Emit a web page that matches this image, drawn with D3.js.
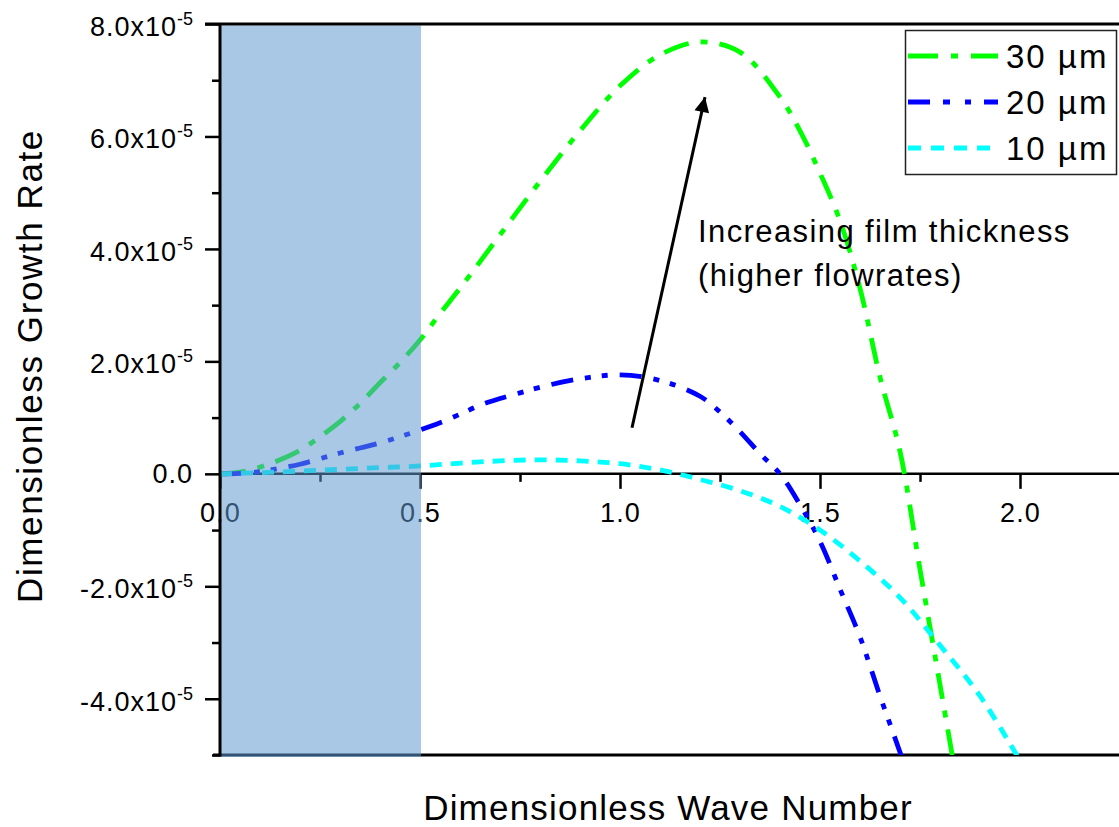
<!DOCTYPE html>
<html><head><meta charset="utf-8">
<script src="https://cdn.jsdelivr.net/npm/d3@7"></script>
<style>
body{margin:0;background:#fff;}
text{font-family:"Liberation Sans",Arial,sans-serif;fill:#000;}
</style>
</head><body>
<svg id="chart" width="1119" height="827"></svg>
<script>
// values of growth rate are in units of 1e-5
const k30 = [0,0.05,0.1,0.15,0.2,0.25,0.3,0.35,0.4,0.45,0.5,0.55,0.6,0.7,0.8,0.9,1.0,1.1,1.2,1.3,1.4,1.45,1.5,1.55,1.6,1.65,1.7,1.75,1.8,1.85];
const g30 = [0,0.03,0.12,0.25,0.42,0.66,0.93,1.25,1.62,1.98,2.38,2.85,3.3,4.25,5.2,6.1,6.9,7.45,7.68,7.5,6.7,6.1,5.35,4.5,3.3,1.72,0.4,-1.7,-3.75,-5.8];
const k20 = [0,0.05,0.1,0.15,0.2,0.25,0.3,0.35,0.4,0.45,0.5,0.55,0.6,0.65,0.7,0.75,0.8,0.9,1.0,1.1,1.2,1.25,1.3,1.35,1.4,1.45,1.5,1.55,1.6,1.65,1.7,1.75];
const g20 = [0,0.01,0.04,0.1,0.17,0.27,0.37,0.46,0.55,0.66,0.78,0.91,1.06,1.22,1.34,1.44,1.54,1.69,1.76,1.66,1.38,1.1,0.75,0.36,0.0,-0.55,-1.2,-2.05,-2.9,-3.95,-4.95,-6.0];
const k10 = [0,0.1,0.2,0.3,0.4,0.5,0.6,0.7,0.8,0.9,1.0,1.1,1.2,1.3,1.4,1.5,1.6,1.7,1.8,1.9,2.0];
const g10 = [0,0.02,0.05,0.08,0.11,0.14,0.19,0.23,0.25,0.23,0.18,0.07,-0.1,-0.3,-0.58,-1.0,-1.55,-2.2,-3.05,-3.95,-5.1];

const seriesNames = ["30 µm","20 µm","10 µm"];
const seriesColors = ["#00ff00","#0000ff","#00ffff"];
const seriesDash = ["26,12,7,12","22,12,6,11,6,12","12,9"];
const legendDash = ["30,13,7,13","22,13,7,15,6,13","13,10"];

const xTicks = [0,0.5,1.0,1.5,2.0];
const xTickLabels = ["0.0","0.5","1.0","1.5","2.0"];
const xMinor = [0.25,0.75,1.25,1.75,2.25];
const yTicks = [-4,-2,0,2,4,6,8];
const yTickLabels = ["-4.0x10","-2.0x10","0.0","2.0x10","4.0x10","6.0x10","8.0x10"];
const yTickExp = ["-5","-5","","-5","-5","-5","-5"];
const yMinor = [-5,-3,-1,1,3,5,7];
const shadedRange = [0,0.5];
const arrowFrom = [1.03,0.82], arrowTo = [1.2125,6.7];
const annotationLines = ["Increasing film thickness","(higher flowrates)"];

const svg = d3.select("#chart");
const x = d3.scaleLinear().domain([0,2.25]).range([220,1120]);
const y = d3.scaleLinear().domain([-5,8]).range([755,24]);

const defs = svg.append("defs");
defs.append("clipPath").attr("id","clip").append("rect")
  .attr("x",220).attr("y",24).attr("width",900).attr("height",731);
defs.append("marker").attr("id","arrow").attr("viewBox","0 0 10 10")
  .attr("refX",10).attr("refY",5).attr("markerWidth",8).attr("markerHeight",5)
  .attr("markerUnits","strokeWidth").attr("orient","auto")
  .append("path").attr("d","M0,0 L10,5 L0,10 z").attr("fill","#000");

// x axis at zero
const xAxisG = svg.append("g").attr("transform",`translate(0,${y(0)})`);
xAxisG.call(d3.axisBottom(x).tickValues(xTicks).tickSize(15).tickPadding(14)
  .tickFormat((d,i)=>xTickLabels[i]));
xAxisG.append("g").call(d3.axisBottom(x).tickValues(xMinor).tickSize(8).tickFormat(""));
xAxisG.selectAll("path.domain").remove();
xAxisG.selectAll("line").attr("stroke","#000").attr("stroke-width",2.5);
xAxisG.selectAll("text").attr("font-size",27).attr("letter-spacing",1.2).attr("fill","#000")
  .attr("font-family","'Liberation Sans',Arial,sans-serif");
svg.append("line").attr("x1",x(0)).attr("x2",1120).attr("y1",y(0)).attr("y2",y(0))
  .attr("stroke","#000").attr("stroke-width",2.5);

// bottom border
svg.append("line").attr("x1",213).attr("x2",1120).attr("y1",y(-5)).attr("y2",y(-5))
  .attr("stroke","#000").attr("stroke-width",3);

// curves
const line = d3.line().x(d=>x(d[0])).y(d=>y(d[1])).curve(d3.curveCatmullRom.alpha(0.5));
const series = [[k30,g30],[k20,g20],[k10,g10]];
const plot = svg.append("g").attr("clip-path","url(#clip)");
series.forEach((s,i)=>{
  const pts = s[0].map((k,j)=>[k,s[1][j]]);
  plot.append("path").datum(pts).attr("d",line).attr("fill","none")
    .attr("stroke",seriesColors[i]).attr("stroke-width",4.8)
    .attr("stroke-dasharray",seriesDash[i]);
});

// shaded region (semi-transparent, above curves)
svg.append("rect").attr("x",x(shadedRange[0])+1).attr("y",y(8)+1.5)
  .attr("width",x(shadedRange[1])-x(shadedRange[0])).attr("height",y(-5)-y(8)+0.5)
  .attr("fill","#5e9ad1").attr("fill-opacity",0.54);

// y axis
const yAxisG = svg.append("g").attr("transform",`translate(${x(0)},0)`);
yAxisG.call(d3.axisLeft(y).tickValues(yTicks).tickSize(15).tickFormat(""));
yAxisG.append("g").call(d3.axisLeft(y).tickValues(yMinor).tickSize(8).tickFormat(""));
yAxisG.selectAll("path.domain").remove();
yAxisG.selectAll("line").attr("stroke","#000").attr("stroke-width",2.5);
svg.append("line").attr("x1",x(0)).attr("x2",x(0)).attr("y1",y(8)).attr("y2",y(-5)+1.5)
  .attr("stroke","#000").attr("stroke-width",3);
// top border
svg.append("line").attr("x1",205).attr("x2",1120).attr("y1",y(8)).attr("y2",y(8))
  .attr("stroke","#000").attr("stroke-width",3);

yTicks.forEach((v,i)=>{
  const t = svg.append("text").attr("x",193).attr("y",y(v)+(yTickExp[i]?12:9))
    .attr("text-anchor","end").attr("font-size",27).attr("letter-spacing",1.0);
  t.append("tspan").text(yTickLabels[i]);
  if(yTickExp[i]) t.append("tspan").attr("dy",-11).attr("font-size",18).attr("letter-spacing",0).text(yTickExp[i]);
});

// axis titles
svg.append("text").attr("transform",`translate(42,366) rotate(-90)`)
  .attr("text-anchor","middle").attr("font-size",35).attr("letter-spacing",1.6)
  .text("Dimensionless Growth Rate");
svg.append("text").attr("x",668).attr("y",820).attr("text-anchor","middle")
  .attr("font-size",35).attr("letter-spacing",1.2).text("Dimensionless Wave Number");

// arrow + annotation
svg.append("line").attr("x1",x(arrowFrom[0])).attr("y1",y(arrowFrom[1]))
  .attr("x2",x(arrowTo[0])).attr("y2",y(arrowTo[1]))
  .attr("stroke","#000").attr("stroke-width",3).attr("marker-end","url(#arrow)");
annotationLines.forEach((s,i)=>{
  svg.append("text").attr("x",698).attr("y",242+i*44).attr("font-size",31)
    .attr("letter-spacing",1.4).text(s);
});

// legend
const lg = svg.append("g");
lg.append("rect").attr("x",905.5).attr("y",30.5).attr("width",211).attr("height",144)
  .attr("fill","#fff").attr("stroke","#222").attr("stroke-width",1.5);
seriesNames.forEach((n,i)=>{
  const ly = 56 + i*46;
  lg.append("line").attr("x1",908).attr("x2",i===2?990:998).attr("y1",ly).attr("y2",ly)
    .attr("stroke",seriesColors[i]).attr("stroke-width",5).attr("stroke-dasharray",legendDash[i]);
  lg.append("text").attr("x",1006).attr("y",ly+12).attr("font-size",33).attr("letter-spacing",2).text(n);
});
</script>
</body></html>
